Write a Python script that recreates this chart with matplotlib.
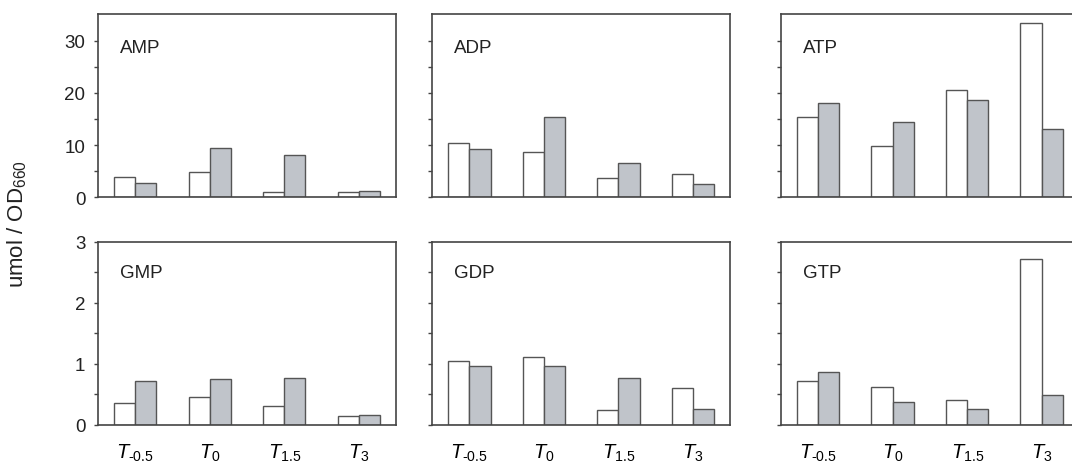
import matplotlib
matplotlib.use("Agg")
import matplotlib.pyplot as plt
import numpy as np

plt.rcParams['font.family'] = ['Liberation Sans', 'DejaVu Sans']
plt.rcParams['mathtext.fontset'] = 'custom'
plt.rcParams['mathtext.rm'] = 'Liberation Sans'
plt.rcParams['mathtext.it'] = 'Liberation Sans:italic'

# time points (hyphen, not minus, in the first subscript)
times = ['$\\mathit{T}_{\\mathrm{\u20100.5}}$', r'$\mathit{T}_{\mathrm{0}}$',
         r'$\mathit{T}_{\mathrm{1.5}}$', r'$\mathit{T}_{\mathrm{3}}$']

# nucleotide pools, umol / OD660 (open = first strain, grey = second strain)
amp_open = [3.85, 4.8, 1.1, 1.0]
amp_grey = [2.8, 9.5, 8.1, 1.2]
adp_open = [10.4, 8.7, 3.7, 4.4]
adp_grey = [9.3, 15.3, 6.6, 2.5]
atp_open = [15.3, 9.9, 20.5, 33.4]
atp_grey = [18.1, 14.4, 18.7, 13.1]
gmp_open = [0.36, 0.45, 0.30, 0.15]
gmp_grey = [0.71, 0.75, 0.77, 0.16]
gdp_open = [1.05, 1.11, 0.245, 0.60]
gdp_grey = [0.96, 0.97, 0.77, 0.255]
gtp_open = [0.71, 0.615, 0.40, 2.72]
gtp_grey = [0.87, 0.375, 0.255, 0.49]

panels = [
    ('AMP', amp_open, amp_grey), ('ADP', adp_open, adp_grey), ('ATP', atp_open, atp_grey),
    ('GMP', gmp_open, gmp_grey), ('GDP', gdp_open, gdp_grey), ('GTP', gtp_open, gtp_grey),
]

fig = plt.figure(figsize=(10.72, 4.64), dpi=100)

lefts = [0.0914, 0.403, 0.7285]
bottoms = [0.5726, 0.0825]
w, h = 0.278, 0.394

edge = '#555555'
grey = '#c0c4ca'
x = np.arange(4)
bw = 0.285

for i, (name, opn, gry) in enumerate(panels):
    row, col = divmod(i, 3)
    ax = fig.add_axes([lefts[col], bottoms[row], w, h])
    ax.bar(x - bw / 2, opn, bw, color='white', edgecolor=edge, linewidth=1.0)
    ax.bar(x + bw / 2, gry, bw, color=grey, edgecolor=edge, linewidth=1.0)
    ax.set_xlim(-0.5, 3.5)
    if row == 0:
        ax.set_ylim(0, 35)
        ax.set_yticks([0, 10, 20, 30])
        ax.set_yticks(np.arange(5, 35, 10), minor=True)
    else:
        ax.set_ylim(0, 3)
        ax.set_yticks([0, 1, 2, 3])
        ax.set_yticks([0.5, 1.5, 2.5], minor=True)
    for s in ax.spines.values():
        s.set_color('#444444')
        s.set_linewidth(1.2)
    ax.tick_params(axis='y', which='both', direction='out', length=3,
                   width=1, color='#444444', labelsize=13.5, pad=6,
                   labelcolor='#222222')
    ax.tick_params(axis='x', length=0, pad=12.5, labelsize=14.5)
    if col != 0:
        ax.set_yticklabels([])
    if row == 1:
        ax.set_xticks(x)
        ax.set_xticklabels(times)
    else:
        ax.set_xticks([])
    ax.text(0.074, 0.795 if row == 0 else 0.81, name, transform=ax.transAxes,
            fontsize=13.5, color='#222222', va='baseline')

fig.text(0.016, 0.517, r'umol / OD$_{\mathrm{660}}$', rotation=90,
         ha='center', va='center', fontsize=16, color='#222222')

fig.savefig('out.png', dpi=100)
